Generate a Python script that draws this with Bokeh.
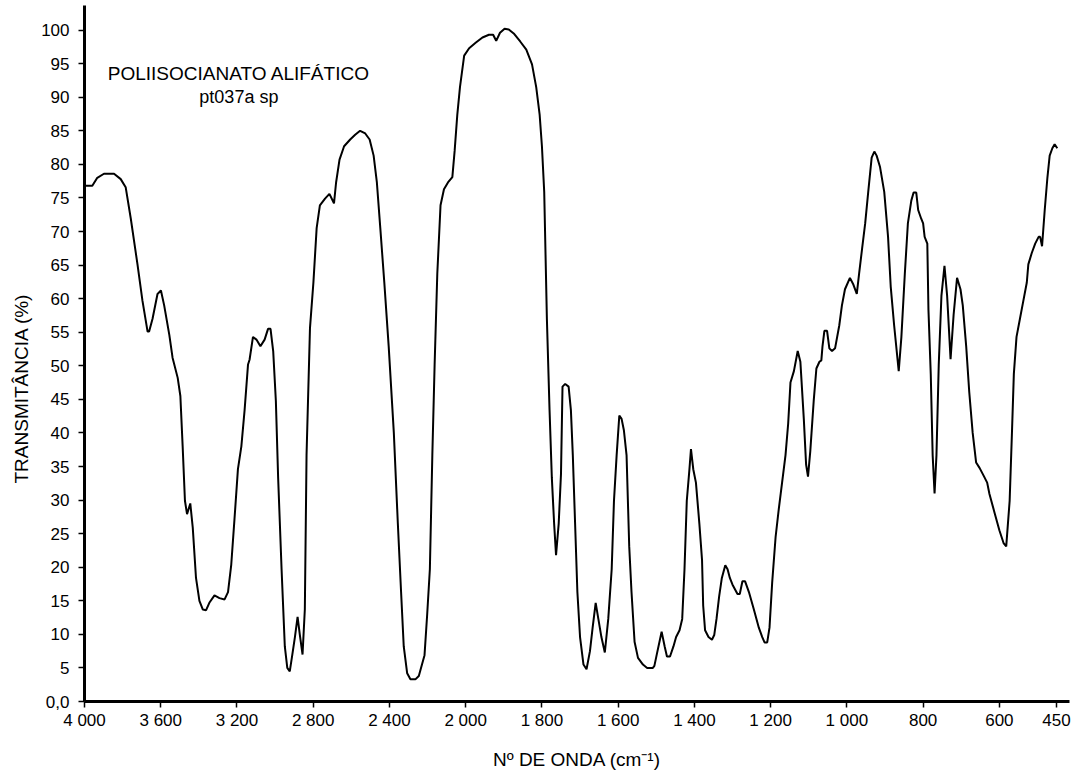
import math
from bokeh.plotting import figure
from bokeh.models import Range1d, FixedTicker, Label, ColumnDataSource, CustomJSTransform, Title
from bokeh.transform import transform
from bokeh.embed import file_html
from bokeh.resources import INLINE

# ---------------- data ----------------
wavenumber = [4000, 3959, 3933, 3898, 3845, 3810, 3784, 3757, 3722, 3696, 3669, 3661, 3643, 3617, 3599,
              3582, 3555, 3538, 3511, 3497, 3485, 3473, 3462, 3445, 3432, 3415, 3397, 3379, 3362, 3345,
              3318, 3292, 3265, 3247, 3230, 3213, 3195, 3177, 3160, 3142, 3134, 3116, 3098, 3077, 3055,
              3037, 3024, 3010, 2996, 2984, 2966, 2949, 2936, 2923, 2910, 2896, 2882, 2870, 2856, 2844,
              2835, 2817, 2799, 2782, 2765, 2738, 2715, 2691, 2680, 2662, 2638, 2606, 2580, 2554, 2527,
              2504, 2483, 2466, 2448, 2427, 2404, 2377, 2356, 2339, 2325, 2307, 2290, 2264, 2246, 2216,
              2202, 2188, 2175, 2163, 2149, 2132, 2114, 2093, 2070, 2058, 2044, 2030, 2008, 1991, 1974,
              1956, 1939, 1928, 1920, 1910, 1898, 1887, 1874, 1857, 1841, 1826, 1815, 1806, 1800, 1794,
              1787, 1780, 1774, 1768, 1763, 1756, 1750, 1746, 1739, 1730, 1724, 1719, 1713, 1707, 1700,
              1691, 1683, 1674, 1667, 1659, 1652, 1644, 1635, 1626, 1617, 1611, 1604, 1597, 1591, 1585,
              1578, 1571, 1565, 1557, 1548, 1535, 1524, 1509, 1505, 1498, 1486, 1478, 1472, 1464, 1455,
              1448, 1439, 1432, 1426, 1420, 1413, 1409, 1403, 1396, 1387, 1380, 1377, 1372, 1363, 1354,
              1348, 1342, 1335, 1328, 1319, 1313, 1307, 1300, 1287, 1281, 1274, 1267, 1257, 1244, 1231,
              1222, 1216, 1209, 1203, 1196, 1187, 1179, 1170, 1161, 1154, 1148, 1139, 1129, 1122, 1113,
              1107, 1102, 1096, 1087, 1080, 1072, 1067, 1064, 1059, 1052, 1046, 1039, 1031, 1020, 1013,
              1005, 992, 983, 974, 968, 960, 952, 944, 935, 928, 922, 913, 902, 892, 885,
              876, 864, 857, 848, 840, 831, 825, 818, 813, 805, 800, 796, 789, 786, 780,
              775, 770, 765, 759, 752, 744, 737, 728, 720, 711, 702, 696, 687, 679, 670,
              661, 652, 641, 632, 626, 613, 600, 589, 582, 573, 567, 562, 555, 546, 538,
              528, 524, 515, 506, 497, 493, 488, 481, 474, 468, 461, 455, 448]

transmittance = [76.8, 76.8, 78.0, 78.6, 78.6, 77.8, 76.6, 71.9, 65.1, 59.7, 55.1, 55.1, 57.0, 60.7, 61.2,
                 59.0, 54.6, 51.2, 48.2, 45.5, 38.0, 29.9, 27.9, 29.5, 25.9, 18.4, 15.0, 13.7, 13.6, 14.7,
                 15.8, 15.4, 15.2, 16.3, 20.4, 27.2, 34.6, 38.0, 43.4, 50.2, 50.9, 54.3, 53.9, 52.9, 53.9,
                 55.5, 55.5, 52.2, 44.8, 33.3, 19.7, 8.2, 5.0, 4.5, 6.9, 9.6, 12.6, 9.9, 7.0, 13.7,
                 36.7, 55.6, 62.4, 70.5, 73.9, 74.9, 75.6, 74.2, 77.3, 80.7, 82.7, 83.7, 84.4, 85.0, 84.6,
                 83.7, 81.3, 77.3, 70.5, 62.4, 52.9, 40.0, 26.5, 16.3, 8.2, 4.2, 3.3, 3.3, 3.8, 6.9,
                 13.0, 19.7, 36.7, 50.2, 63.7, 73.9, 76.3, 77.3, 78.1, 82.0, 87.4, 91.5, 96.2, 97.3, 98.1,
                 98.9, 99.3, 99.3, 98.4, 99.6, 100.2, 100.1, 99.5, 98.3, 97.1, 94.9, 91.5, 87.4, 82.7, 75.9,
                 57.0, 43.4, 33.3, 26.5, 21.8, 26.5, 33.9, 46.9, 47.3, 46.9, 43.4, 36.7, 26.5, 16.3, 9.6,
                 5.5, 4.8, 7.5, 11.0, 14.7, 12.3, 9.6, 7.3, 12.3, 19.7, 29.9, 36.7, 42.6, 42.1, 40.4,
                 36.7, 23.1, 16.3, 8.9, 6.5, 5.5, 5.0, 5.0, 5.3, 7.2, 10.4, 8.2, 6.7, 6.7, 8.2,
                 9.6, 10.6, 12.3, 19.7, 29.9, 34.6, 37.6, 34.6, 32.6, 26.5, 21.1, 14.3, 10.6, 9.6, 9.2,
                 9.9, 12.3, 15.7, 18.4, 20.3, 19.7, 18.4, 17.4, 16.0, 16.0, 17.9, 17.9, 16.3, 13.7, 11.0,
                 9.6, 8.8, 8.8, 11.0, 17.7, 24.5, 28.5, 32.6, 36.7, 41.4, 47.5, 49.2, 52.2, 50.6, 42.1,
                 35.3, 33.5, 37.3, 44.8, 49.6, 50.6, 50.8, 52.9, 55.2, 55.2, 52.6, 52.2, 52.6, 56.0, 59.0,
                 61.4, 63.1, 62.1, 60.7, 63.7, 67.5, 71.2, 75.9, 81.0, 81.9, 81.3, 79.6, 75.9, 69.2, 61.8,
                 56.0, 49.2, 54.3, 63.7, 71.2, 74.6, 75.8, 75.8, 73.2, 71.9, 71.2, 69.2, 68.2, 58.3, 48.8,
                 36.7, 31.0, 36.7, 50.2, 60.4, 64.9, 60.4, 51.0, 57.6, 63.1, 61.4, 59.0, 52.9, 46.1, 40.0,
                 35.6, 34.8, 33.6, 32.6, 30.9, 28.2, 25.5, 23.6, 23.1, 29.9, 40.0, 48.8, 54.3, 57.0, 59.4,
                 62.4, 65.1, 66.8, 68.2, 69.2, 69.2, 67.8, 73.2, 78.0, 81.3, 82.4, 83.0, 82.4]

x_tick_values = [4000, 3600, 3200, 2800, 2400, 2000, 1800, 1600, 1400, 1200, 1000, 800, 600, 450]
x_tick_labels = ["4 000", "3 600", "3 200", "2 800", "2 400", "2 000", "1 800", "1 600",
                 "1 400", "1 200", "1 000", "800", "600", "450"]
y_tick_values = list(range(0, 101, 5))
y_tick_labels = ["0,0"] + [str(v) for v in range(5, 101, 5)]

title_lines = ["POLIISOCIANATO ALIFÁTICO", "pt037a sp"]
x_title = "Nº DE ONDA (cm⁻¹)"
y_title = "TRANSMITÂNCIA (%)"

# ---------------- broken wavenumber scale (400 cm-1/unit above 2000, 200 below) ----------------
def axis_pos(w):
    return (4000 - w) / 400 if w >= 2000 else 5 + (2000 - w) / 200

wn_scale = CustomJSTransform(v_func="""
const out = new Array(xs.length);
for (let i = 0; i < xs.length; i++) {
  const w = xs[i];
  out[i] = w >= 2000 ? (4000 - w) / 400 : 5 + (2000 - w) / 200;
}
return out;
""")

FONT = "Liberation Sans"

src = ColumnDataSource(dict(wn=wavenumber, t=transmittance))

p = figure(width=1076, height=774,
           x_range=Range1d(0, 12.92), y_range=Range1d(0, 103.66),
           output_backend="svg", toolbar_location=None,
           min_border_left=84, min_border_right=7, min_border_top=5, min_border_bottom=73)

p.line(x=transform("wn", wn_scale), y="t", source=src, line_color="black", line_width=2)

p.xgrid.visible = False
p.ygrid.visible = False
p.outline_line_color = None
p.background_fill_color = "white"
p.border_fill_color = "white"

xt = [float(axis_pos(w)) for w in x_tick_values]
p.xaxis.ticker = FixedTicker(ticks=xt)
p.xaxis.major_label_overrides = {k: lab for k, lab in zip(xt, x_tick_labels)}
p.yaxis.ticker = FixedTicker(ticks=[float(v) for v in y_tick_values])
p.yaxis.major_label_overrides = {float(v): lab for v, lab in zip(y_tick_values, y_tick_labels)}

for ax in (p.xaxis, p.yaxis):
    ax.axis_line_width = 3
    ax.axis_line_color = "black"
    ax.major_tick_line_width = 1.5
    ax.major_tick_line_color = "black"
    ax.major_tick_out = 6
    ax.major_tick_in = 0
    ax.minor_tick_line_color = None
    ax.major_label_text_font = FONT
    ax.major_label_text_font_size = "17px"
    ax.major_label_text_color = "black"

p.xaxis.major_label_standoff = 3
p.yaxis.major_label_standoff = 9

p.xaxis.axis_label = x_title
p.xaxis.axis_label_text_font = FONT
p.xaxis.axis_label_text_font_size = "19px"
p.xaxis.axis_label_text_font_style = "normal"
p.xaxis.axis_label_text_color = "black"
p.xaxis.axis_label_standoff = 16

# rotated y title in the left panel, placed lower than the frame middle like the reference
p.add_layout(Title(text=y_title, align="left", offset=218, standoff=13,
                   text_font=FONT, text_font_size="19px", text_font_style="normal",
                   text_color="black"), "left")

# in-plot sample titles
p.add_layout(Label(x=axis_pos(3190), y=93.6, text=title_lines[0], text_align="center",
                   text_baseline="middle", text_font=FONT, text_font_size="19px", text_color="black"))
p.add_layout(Label(x=axis_pos(3190), y=90.0, text=title_lines[1], text_align="center",
                   text_baseline="middle", text_font=FONT, text_font_size="18px", text_color="black"))

open("out.html", "w").write(file_html(p, INLINE))
